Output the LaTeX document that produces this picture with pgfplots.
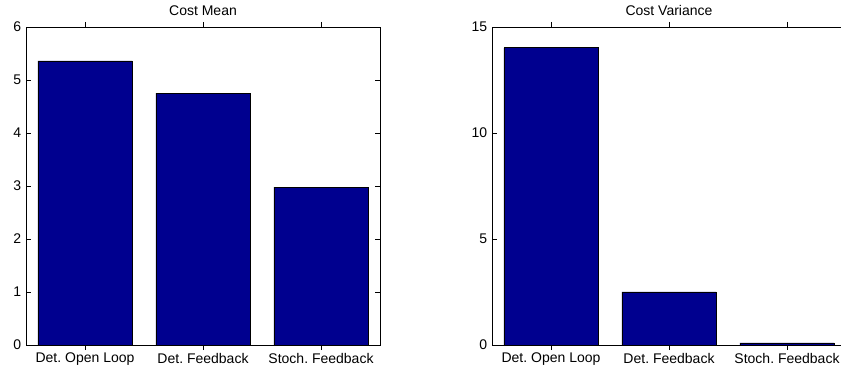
\documentclass[border=0pt]{standalone}
\usepackage{fontspec}
\setmainfont{Liberation Sans}
\usepackage{pgfplots}
\pgfplotsset{compat=1.18}
\definecolor{barblue}{RGB}{0,0,143}
\frenchspacing
\begin{document}
\fontsize{14}{16}\selectfont
\begin{tikzpicture}
\useasboundingbox (0pt,0pt) rectangle (841pt,367pt);
\pgfplotsset{myax/.style={
  width=354pt, height=318pt, scale only axis,
  anchor=south west,
  xmin=0.5, xmax=3.5, xtick={1,2,3},
  xticklabels={Det. Open Loop, Det. Feedback, Stoch. Feedback},
  ymin=0,
  tick align=inside, major tick length=5pt,
  tick style={black, line width=0.6pt},
  axis line style={line width=0.8pt},
  ybar, bar width=0.8,
  ticklabel style={font=\fontsize{14}{16}\selectfont},
  xticklabel style={yshift=2pt},
  title style={font=\fontsize{14}{16}\selectfont},
  /pgf/number format/assume math mode=true,
}}
\begin{axis}[myax, at={(26pt,22pt)}, ymax=6, ytick={0,1,2,3,4,5,6}, title={Cost Mean}]
\addplot[fill=barblue, draw=black, line width=0.6pt] coordinates {(1,5.36) (2,4.75) (3,2.98)};
\end{axis}
\begin{axis}[myax, at={(492pt,22pt)}, ymax=15, ytick={0,5,10,15}, title={Cost Variance}]
\addplot[fill=barblue, draw=black, line width=0.6pt] coordinates {(1,14.02) (2,2.5) (3,0.1)};
\end{axis}
\end{tikzpicture}
\end{document}
